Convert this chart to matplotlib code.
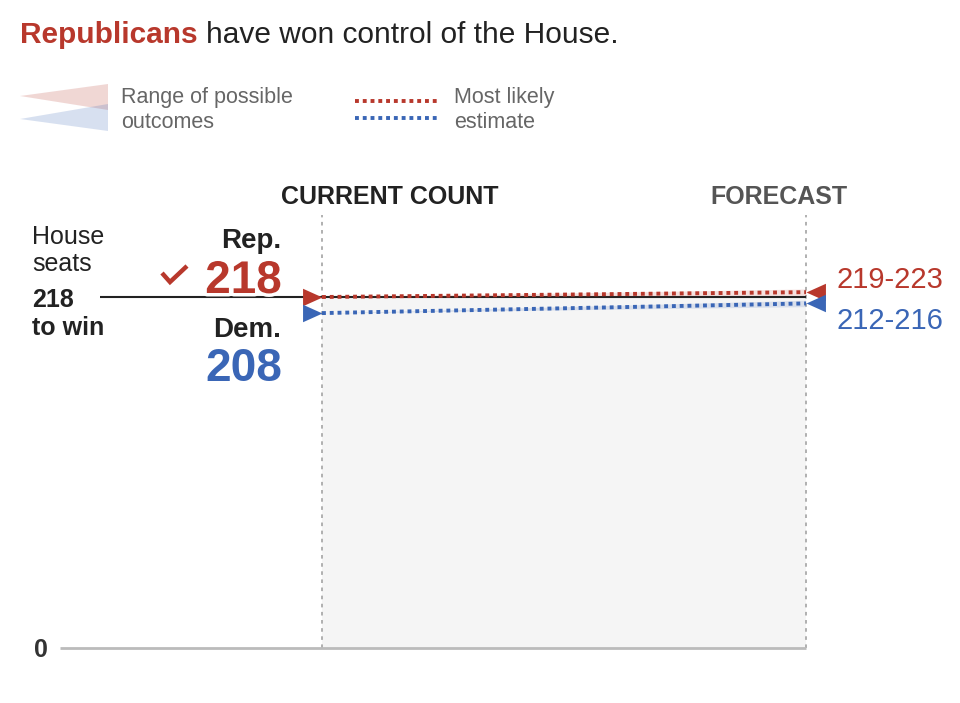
import matplotlib
matplotlib.use('Agg')
import matplotlib.pyplot as plt
import matplotlib.patheffects as pe
from matplotlib.lines import Line2D

# data
parties = ['Rep.', 'Dem.']
current_seats = [218, 208]
forecast_mid = [221, 214]
forecast_low = [219, 212]
forecast_high = [223, 216]
seats_to_win = 218
stages = ['CURRENT COUNT', 'FORECAST']
stage_x = [0, 1]

RED = '#b8382c'
BLUE = '#3a66b6'
DARK = '#222222'
GREY = '#666666'
colors = [RED, BLUE]

plt.rcParams['font.family'] = ['Liberation Sans', 'DejaVu Sans']

W, H = 960, 703
fig = plt.figure(figsize=(W / 100, H / 100), dpi=100)
ax = fig.add_axes([0, 0, 1, 1])

# pixel layout of the chart area
x0_px, x1_px = 322, 806
y0_px, ywin_px = 648, 297
ppx = (y0_px - ywin_px) / seats_to_win
span = x1_px - x0_px
ax.set_xlim(-x0_px / span, (W - x0_px) / span)
ax.set_ylim(-(H - y0_px) / ppx, y0_px / ppx)
ax.axis('off')


def px_x(p):
    return (p - x0_px) / span


def seat_of(py):
    return (y0_px - py) / ppx


def fig_txt(x, y, s, **kw):
    # small nudge: va='center' sits a touch high for this font
    return fig.text(x / W, 1 - (y + 2) / H, s, **kw)


DOTS = (0, (1, 1))

# triangle markers with the tip at the data point
tri_right = [(-1, 0.45), (0, 0), (-1, -0.45), (-1, 0.45)]
tri_left = [(1, 0.45), (0, 0), (1, -0.45), (1, 0.45)]

# shaded region between current and forecast
ax.fill_between(stage_x, 0, seats_to_win, color='#f5f5f5', lw=0, zorder=0)

# vertical dotted guides
for sx in stage_x:
    ax.plot([sx, sx], [0, seat_of(215)], color='#aaaaaa', lw=1.3, ls=(0, (2, 2.5)), zorder=1)

# baseline and 218 line
ax.plot([px_x(60), 1], [0, 0], color='#bbbbbb', lw=2, zorder=1, solid_capstyle='butt')
ax.plot([px_x(100), 1], [seats_to_win, seats_to_win], color=DARK, lw=1.5, zorder=2,
        solid_capstyle='butt')

# range fans and most likely lines
for i, c in enumerate(colors):
    ax.fill_between(stage_x, [current_seats[i], forecast_low[i]],
                    [current_seats[i], forecast_high[i]], color=c, alpha=0.15, lw=0, zorder=2)
    ax.plot(stage_x, [current_seats[i], forecast_mid[i]], color=c, lw=2.8,
            ls=DOTS, dash_capstyle='butt', zorder=3)
    ax.plot([stage_x[0]], [current_seats[i]], marker=tri_right, color=c, ms=28,
            markeredgewidth=0, zorder=4)
    ax.plot([stage_x[1]], [forecast_mid[i]], marker=tri_left, color=c, ms=28,
            markeredgewidth=0, zorder=4)

# stage headers
fig_txt(390, 195, stages[0], ha='center', va='center', fontsize=18, fontweight='bold',
        color=DARK)
fig_txt(779, 195, stages[1], ha='center', va='center', fontsize=18, fontweight='bold',
        color='#555555')

# left labels
fig_txt(32, 235, 'House', ha='left', va='center', fontsize=18, color=DARK)
fig_txt(32, 262, 'seats', ha='left', va='center', fontsize=18, color=DARK)
fig_txt(32, 298, str(seats_to_win), ha='left', va='center', fontsize=18,
        fontweight='bold', color=DARK)
fig_txt(32, 326, 'to win', ha='left', va='center', fontsize=18, fontweight='bold', color=DARK)
fig_txt(48, 648, '0', ha='right', va='center', fontsize=18, fontweight='bold', color='#333333')

fig_txt(281, 239, parties[0], ha='right', va='center', fontsize=20, fontweight='bold', color=DARK)
fig_txt(281, 328, parties[1], ha='right', va='center', fontsize=20, fontweight='bold', color=DARK)
stroke = [pe.withStroke(linewidth=5, foreground='white')]
fig_txt(282, 279, str(current_seats[0]), ha='right', va='center', fontsize=33,
        fontweight='bold', color=RED, path_effects=stroke)
fig_txt(282, 367, str(current_seats[1]), ha='right', va='center', fontsize=33,
        fontweight='bold', color=BLUE)

# check mark next to the winner
fig.add_artist(Line2D([162 / W, 170 / W, 187 / W], [1 - 273 / H, 1 - 282 / H, 1 - 266 / H],
                      color=RED, lw=3.2, solid_capstyle='butt', solid_joinstyle='miter'))

# forecast range labels
for i, c in enumerate(colors):
    fig_txt(837, [278, 319][i], f'{forecast_low[i]}-{forecast_high[i]}', ha='left',
            va='center', fontsize=21, color=c)

# title
t1 = fig_txt(20, 33, 'Republicans', ha='left', va='center', fontsize=21.5,
             fontweight='bold', color=RED)
fig.canvas.draw()
bb = t1.get_window_extent()
fig.text((bb.x1 + 8) / W, 1 - 35 / H, 'have won control of the House.', ha='left',
         va='center', fontsize=21.5, color=DARK)

# legend
lx = [px_x(20), px_x(108)]
ax.fill([lx[0], lx[1], lx[1]], [seat_of(96), seat_of(84), seat_of(110)],
        color=RED, alpha=0.2, lw=0)
ax.fill([lx[0], lx[1], lx[1]], [seat_of(119), seat_of(104), seat_of(131)],
        color=BLUE, alpha=0.2, lw=0)
fig_txt(121, 96, 'Range of possible', ha='left', va='center', fontsize=15.5, color=GREY)
fig_txt(121, 120, 'outcomes', ha='left', va='center', fontsize=15.5, color=GREY)
ax.plot([px_x(355), px_x(438)], [seat_of(101)] * 2, color=RED, lw=2.8, ls=DOTS,
        dash_capstyle='butt')
ax.plot([px_x(355), px_x(438)], [seat_of(118)] * 2, color=BLUE, lw=2.8, ls=DOTS,
        dash_capstyle='butt')
fig_txt(454, 96, 'Most likely', ha='left', va='center', fontsize=15.5, color=GREY)
fig_txt(454, 120, 'estimate', ha='left', va='center', fontsize=15.5, color=GREY)

fig.savefig('out.png', dpi=100, facecolor='white')
